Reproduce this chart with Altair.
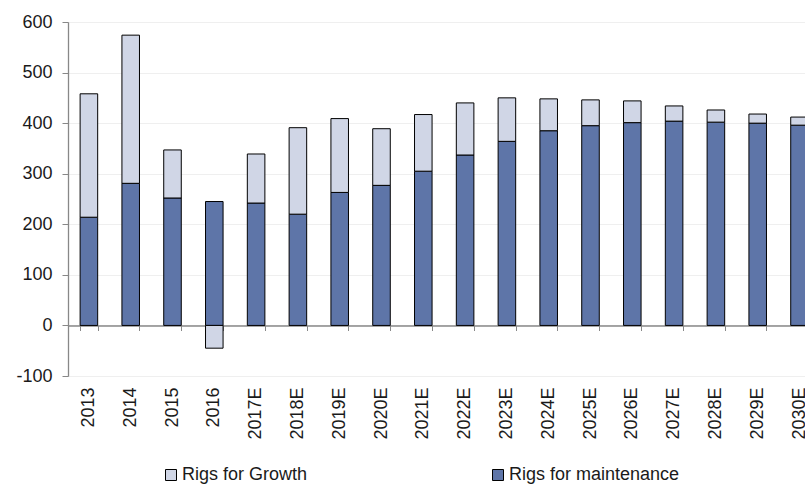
import altair as alt
import pandas as pd

# Rig demand split into maintenance and growth (2013 actual to 2030 estimates)
years = ["2013", "2014", "2015", "2016", "2017E", "2018E", "2019E", "2020E", "2021E",
         "2022E", "2023E", "2024E", "2025E", "2026E", "2027E", "2028E", "2029E", "2030E"]
maintenance = [214, 281, 252, 245, 242, 220, 263, 277, 305,
               337, 364, 385, 395, 401, 404, 402, 400, 396]
growth = [244, 293, 95, -45, 97, 171, 146, 112, 112,
          103, 86, 63, 51, 43, 30, 24, 18, 16]

series_names = ["Rigs for Growth", "Rigs for maintenance"]
series_colors = ["#d0d6e6", "#5e75a8"]
y_ticks = [-100, 0, 100, 200, 300, 400, 500, 600]

rows = []
for yr, m, g in zip(years, maintenance, growth):
    rows.append({"year": yr, "series": "Rigs for maintenance", "value": m, "rank": 0})
    rows.append({"year": yr, "series": "Rigs for Growth", "value": g, "rank": 1})
df = pd.DataFrame(rows)

FONT = "Liberation Sans"
FS = 18
STEP = 41.8
x_scale = alt.Scale(range=[0, STEP * len(years)], paddingInner=0.58, paddingOuter=0.29)
y_scale = alt.Scale(domain=[-100, 600], nice=False)

bars = alt.Chart(df).mark_bar(stroke="black", strokeWidth=1).encode(
    x=alt.X("year:N", sort=years, scale=x_scale, title=None,
            axis=alt.Axis(orient="bottom", domain=False, ticks=False, grid=False,
                          labelAngle=-90, labelPadding=11, labelFontSize=FS,
                          labelFont=FONT, labelColor="#1a1a1a")),
    y=alt.Y("value:Q", scale=y_scale, title=None, stack="zero",
            axis=alt.Axis(values=y_ticks, labelExpr="'' + datum.value",
                          domainColor="#888888", domainWidth=1.3,
                          tickColor="#888888", tickSize=6, labelPadding=10,
                          labelFontSize=FS, labelFont=FONT, labelColor="#1a1a1a",
                          gridColor="#efefef", gridWidth=1)),
    color=alt.Color("series:N", scale=alt.Scale(domain=series_names, range=series_colors),
                    legend=alt.Legend(orient="none", legendX=94, legendY=444,
                                      direction="horizontal", title=None,
                                      symbolType="square", symbolSize=121,
                                      symbolStrokeColor="black", symbolStrokeWidth=1,
                                      labelFontSize=FS, labelFont=FONT,
                                      labelColor="#1a1a1a", labelOffset=2,
                                      labelLimit=400, columnPadding=181, padding=0)),
    order=alt.Order("rank:Q", sort="ascending"),
)

# Category axis drawn along the zero line, ticks between the bars
zero_axis = alt.Chart(pd.DataFrame({"year": years})).mark_rule(opacity=0).encode(
    x=alt.X("year:N", sort=years, scale=x_scale, title=None,
            axis=alt.Axis(orient="bottom", offset=-50.5, labels=False, grid=False,
                          domainColor="#888888", domainWidth=1.3,
                          tickColor="#888888", tickSize=5, tickBand="extent")),
    y=alt.value(0),
)

chart = alt.layer(zero_axis, bars).resolve_axis(x="independent").properties(
    width=737, height=354,
    autosize=alt.AutoSizeParams(type="none"),
    padding={"left": 68, "top": 22, "right": 0, "bottom": 111},
).configure_view(stroke=None).configure(background="white")

chart.save("out.html", embed_options={"renderer": "svg", "actions": False})
